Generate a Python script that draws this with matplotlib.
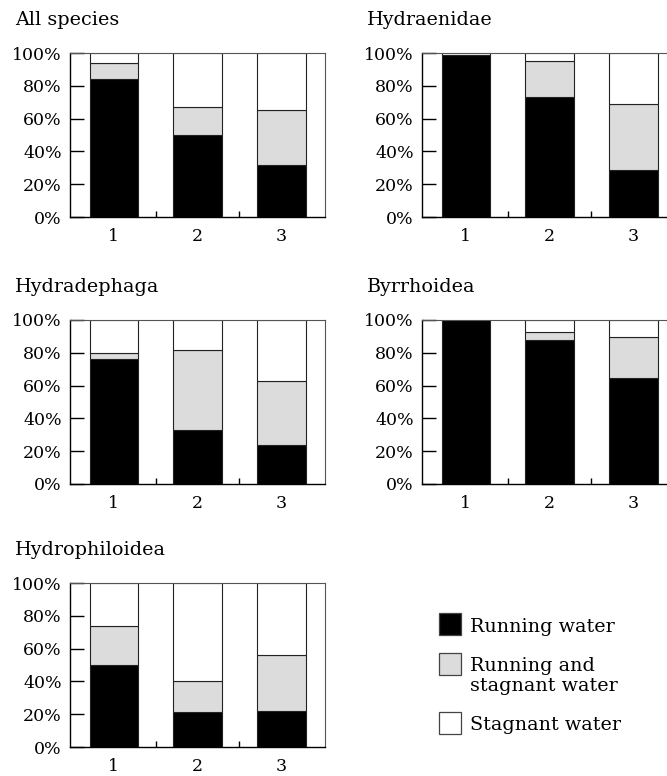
import numpy as np
import matplotlib
matplotlib.use("Agg")
import matplotlib.pyplot as plt
from matplotlib.patches import Rectangle

# ==========================================================
# Data (percent of species per group)
# ==========================================================

groups = ["1", "2", "3"]

titles = ["All species", "Hydraenidae", "Hydradephaga", "Byrrhoidea", "Hydrophiloidea"]

running_all = [84, 50, 32]
both_all = [10, 17, 33]

running_hydraenidae = [99, 73, 28.5]
both_hydraenidae = [0, 22, 40.5]

running_hydradephaga = [76, 33, 24]
both_hydradephaga = [4, 49, 39]

running_byrrhoidea = [100, 88, 64.5]
both_byrrhoidea = [0, 4.7, 25.3]

running_hydrophiloidea = [50, 21.5, 22]
both_hydrophiloidea = [24, 18.5, 34]

running_list = [running_all, running_hydraenidae, running_hydradephaga,
                running_byrrhoidea, running_hydrophiloidea]
both_list = [both_all, both_hydraenidae, both_hydradephaga,
             both_byrrhoidea, both_hydrophiloidea]

legend_labels = ["Running water", "Running and\nstagnant water", "Stagnant water"]

# ==========================================================
# Style
# ==========================================================

plt.rcParams["font.family"] = ["DejaVu Serif"]
plt.rcParams["font.size"] = 12.5

TEXT_SIZE = 13.8

BLACK = "#000000"
GREY = "#dcdcdc"
WHITE = "#ffffff"
EDGE = "#222222"

W, H = 667, 776
fig = plt.figure(figsize=(W / 100, H / 100), dpi=100)

# axes boxes in pixels: left, top, width, height
col_left = [70, 422]
row_top = [53, 320, 583]
ax_w, ax_h = 255, 164

positions = [(col_left[0], row_top[0]), (col_left[1], row_top[0]),
             (col_left[0], row_top[1]), (col_left[1], row_top[1]),
             (col_left[0], row_top[2])]

x = np.arange(1, len(groups) + 1)

for title, running, both, (px, py) in zip(titles, running_list, both_list, positions):

    ax = fig.add_axes([px / W, (H - py - ax_h) / H, ax_w / W, ax_h / H])

    running = np.array(running, dtype=float)
    both = np.array(both, dtype=float)
    stagnant = 100 - running - both

    ax.bar(x, running, width=0.58, color=BLACK, edgecolor=EDGE, linewidth=0.8)
    ax.bar(x, both, width=0.58, bottom=running, color=GREY, edgecolor=EDGE, linewidth=0.8)
    ax.bar(x, stagnant, width=0.58, bottom=running + both, color=WHITE,
           edgecolor=EDGE, linewidth=0.8)

    ax.set_xlim(0.477, 3.522)
    ax.set_ylim(0, 100)

    ax.set_xticks(x)
    ax.set_xticklabels(groups)
    ax.set_xticks([1.5, 2.5], minor=True)
    ax.tick_params(axis="x", which="major", length=0, pad=8)
    ax.tick_params(axis="x", which="minor", direction="in", length=4, width=1)

    ax.set_yticks(np.arange(0, 101, 20))
    ax.set_yticklabels([f"{v}%" for v in range(0, 101, 20)])
    ax.tick_params(axis="y", direction="in", length=10, width=1, pad=6)

    for side in ["left", "bottom"]:
        ax.spines[side].set_linewidth(1.0)
        ax.spines[side].set_color("black")
    for side in ["top", "right"]:
        ax.spines[side].set_linewidth(0.8)
        ax.spines[side].set_color("#555555")

    ax.annotate(title, xy=(0, 1), xycoords="axes fraction",
                xytext=(-55, 28), textcoords="offset pixels",
                ha="left", va="baseline", fontsize=TEXT_SIZE)

# ==========================================================
# Legend
# ==========================================================

leg = fig.add_axes([0, 0, 1, 1])
leg.set_xlim(0, W)
leg.set_ylim(H, 0)
leg.axis("off")

legend_colors = [BLACK, GREY, WHITE]
legend_box_top = [613, 653, 712]
legend_baseline = [632, 671, 730]

for color, label, top, base in zip(legend_colors, legend_labels, legend_box_top, legend_baseline):
    leg.add_patch(Rectangle((439, top), 22, 22, facecolor=color,
                            edgecolor="#444444", linewidth=0.9))
    for i, line in enumerate(label.split("\n")):
        leg.text(470, base + i * 20, line, ha="left", va="baseline", fontsize=TEXT_SIZE)

fig.savefig("out.png", dpi=100)
